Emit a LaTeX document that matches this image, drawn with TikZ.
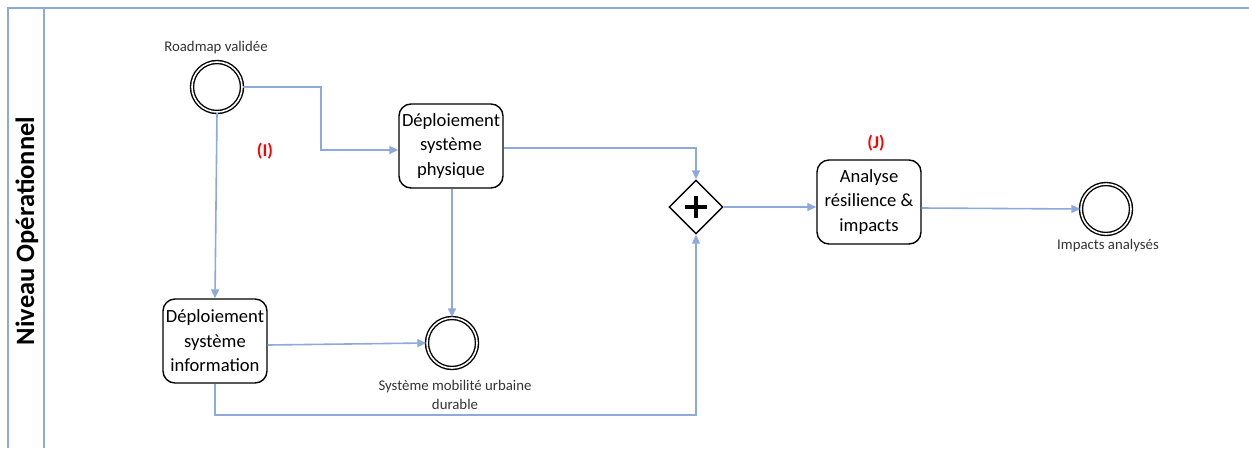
\documentclass[tikz,border=0pt]{standalone}
\usepackage{fontspec}
\setmainfont{Carlito}
\usetikzlibrary{arrows.meta,shapes.geometric}
\definecolor{flow}{HTML}{8EA9DB}
\definecolor{lane}{HTML}{8EA9DB}
\begin{document}
\begin{tikzpicture}[x=1pt,y=-1pt,
  task/.style={draw,rounded corners=12pt,line width=1.4pt,minimum width=104pt,minimum height=84pt,align=center,font=\fontsize{18.6}{24.5}\selectfont,inner sep=1pt},
  evt/.style={circle,draw,line width=1.4pt,double,double distance=1.6pt,minimum size=50pt,inner sep=0pt},
  gw/.style={diamond,draw,line width=1.4pt,minimum width=54pt,minimum height=54pt,inner sep=0pt},
  lbl/.style={font=\fontsize{14.8}{19}\selectfont,align=center,text=black!80},
  tag/.style={font=\bfseries\fontsize{18}{20}\selectfont,text=red},
  flowline/.style={draw=flow,line width=1.6pt,-{Triangle[length=9pt,width=8pt]}}
]
\useasboundingbox (0,0) rectangle (1249,448);
% lane frame
\draw[lane,line width=1.8pt] (1249,8) -- (8,8) -- (8,448);
\draw[lane,line width=1.8pt] (44,8) -- (44,448);
\node[rotate=90,font=\bfseries\fontsize{26.5}{30}\selectfont] (lanetitle) at (27,231) {Niveau Opérationnel};

% nodes
\node[evt] (start) at (217,87) {};
\node[lbl] (startlbl) at (216,48) {Roadmap validée};
\node[task] (phys) at (451,146) {Déploiement\\système\\physique};
\node[task] (info) at (215,341) {Déploiement\\système\\information};
\node[evt] (mob) at (452,343) {};
\node[lbl,anchor=north] (moblbl) at (455,377) {Système mobilité urbaine\\durable};
\node[gw] (gate) at (696,207) {};
\draw[line width=3.8pt] (gate.center) ++(-11,0) -- ++(22,0);
\draw[line width=3.8pt] (gate.center) ++(0,-11) -- ++(0,22);
\node[task] (ana) at (869,202) {Analyse\\résilience \&\\impacts};
\node[evt] (endev) at (1106,209) {};
\node[lbl] (endlbl) at (1108,246) {Impacts analysés};
\node[tag] (tagI) at (265,151) {(I)};
\node[tag] (tagJ) at (876,143) {(J)};

% connectors
\coordinate (c1) at (321,87);
\coordinate (c2) at (321,150);
\draw[flowline] (start.east) -- (c1) -- (c2) -- (phys.west |- c2);
\draw[flowline] (start.south) -- (info.north);
\coordinate (c3) at (696,148);
\draw[flowline] (phys.east |- c3) -- (c3) -- (gate.north);
\draw[flowline] (phys.south -| mob.north) -- (mob.north);
\draw[flowline] (info.east) ++(0,4) -- (mob.west);
\coordinate (c4) at (215,415);
\coordinate (c5) at (696,415);
\draw[flowline] (info.south) -- (c4) -- (c5) -- (gate.south);
\draw[flowline] (gate.east) -- (ana.west |- gate.east);
\draw[flowline] (ana.east |- 0,208) -- (endev.west);
\end{tikzpicture}
\end{document}
